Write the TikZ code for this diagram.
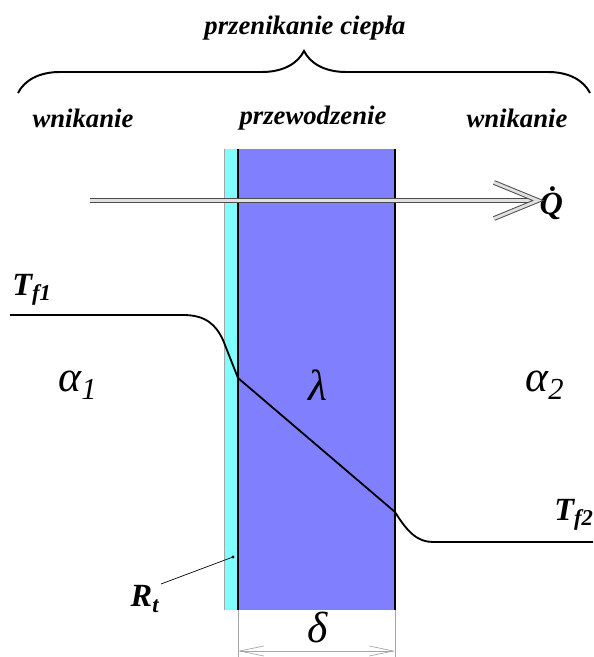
\documentclass[tikz,border=0pt]{standalone}
\usepackage{fontspec}
\setmainfont{Liberation Serif}
\usepackage{tikz}
\usetikzlibrary{arrows.meta,decorations.pathreplacing}
\definecolor{LayerCyan}{RGB}{128,255,255}
\definecolor{WallBlue}{RGB}{128,128,255}
\definecolor{FlowGrey}{gray}{0.3}
\definecolor{FlowFill}{gray}{0.88}

\begin{document}
\begin{tikzpicture}[
  label text/.style={font=\fontsize{19}{22}\selectfont\bfseries\itshape},
  greek label/.style={font=\fontsize{31}{34}\selectfont\itshape},
  symbol label/.style={font=\fontsize{23}{26}\selectfont\bfseries\itshape},
  wall edge/.style={line width=1.4pt},
  thin grey/.style={draw=gray!70,line width=0.5pt},
  flow line/.style={draw=FlowGrey,double=FlowFill,double distance=2pt,line width=0.7pt},
]
  \useasboundingbox (0,0) rectangle (14.825,16.425);

  \fill[LayerCyan] (5.6,1.175) rectangle (5.95,12.7);
  \fill[WallBlue] (5.95,1.175) rectangle (9.875,12.7);
  \draw[thin grey] (5.6,1.175) -- (5.6,12.7);
  \draw[wall edge] (5.95,1.175) -- (5.95,12.7);
  \draw[wall edge] (9.875,1.175) -- (9.875,12.7);

  \node[label text] (title) at (7.625,15.725) {przenikanie ciepła};
  \draw[line width=1.4pt,decorate,decoration={brace,amplitude=1.05cm}]
    (0.45,14.1) -- (14.75,14.1);
  \node[label text] (leftzone) at (2.075,13.475) {wnikanie};
  \node[label text] (wallzone) at (7.825,13.475) {przewodzenie};
  \node[label text] (rightzone) at (12.925,13.475) {wnikanie};

  \coordinate (flowstart) at (2.25,11.4125);
  \node[symbol label,anchor=west,inner sep=1pt] (Q) at (13.45,11.35) {\.{Q}};
  \coordinate (flowtip) at (Q.west |- flowstart);
  \draw[flow line] (flowstart) -- ([xshift=-1.5pt]flowtip);
  \draw[flow line,miter limit=20] ([shift={(-1.1cm,0.45cm)}]flowtip) -- (flowtip)
    -- ([shift={(-1.1cm,-0.45cm)}]flowtip);

  \draw[line width=1.3pt]
    (0.25,8.55) -- (4.575,8.55)
    .. controls (5.15,8.55) and (5.4,8.3) .. (5.575,7.925)
    -- (5.95,6.975) -- (9.875,3.625)
    .. controls (10.2,3.1) and (10.45,2.875) .. (10.825,2.875) -- (14.825,2.875);

  \node[symbol label] (Tf1) at (0.8,9.175) {T\textsubscript{f1}};
  \node[symbol label] (Tf2) at (14.35,3.55) {T\textsubscript{f2}};

  \node[greek label] (alpha1) at (1.95,6.8) {α\textsubscript{1}};
  \node[greek label] (lambda) at (7.95,6.8) {λ};
  \node[greek label] (alpha2) at (13.625,6.8) {α\textsubscript{2}};

  \coordinate (layerdot) at (5.825,2.5);
  \fill (layerdot) circle (1.2pt);
  \node[symbol label,inner sep=1pt] (Rt) at (3.625,1.45) {R\textsubscript{t}};
  \draw[line width=0.5pt] (layerdot) -- (Rt.north east);

  \coordinate (dimleft) at (5.95,0.15);
  \coordinate (dimright) at (9.875,0.15);
  \draw[thin grey] (5.95,1.175) -- (5.95,0);
  \draw[thin grey] (9.875,1.175) -- (9.875,0);
  \draw[thin grey,{Straight Barb[length=0.6cm,width=0.25cm]}-{Straight Barb[length=0.6cm,width=0.25cm]}]
    (dimleft) -- (dimright);
  \node[greek label] (delta) at (7.95,0.75) {δ};
\end{tikzpicture}
\end{document}
